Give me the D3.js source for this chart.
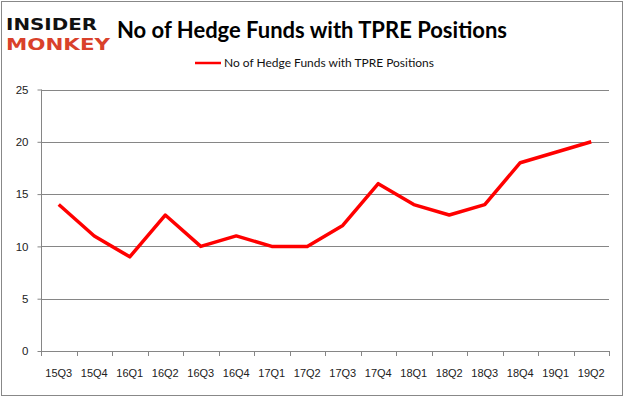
<!DOCTYPE html>
<html><head><meta charset="utf-8">
<script src="https://cdn.jsdelivr.net/npm/d3@7"></script>
<style>body{margin:0;background:#fff}svg{display:block}</style>
</head><body>
<svg id="c" width="626" height="397"></svg>
<script>
const categories = ["15Q3","15Q4","16Q1","16Q2","16Q3","16Q4","17Q1","17Q2","17Q3","17Q4","18Q1","18Q2","18Q3","18Q4","19Q1","19Q2"];
const values = [14,11,9,13,10,11,10,10,12,16,14,13,14,18,19,20];
const yTicks = [0,5,10,15,20,25];
const titleText = "No of Hedge Funds with TPRE Positions";
const seriesName = "No of Hedge Funds with TPRE Positions";

const svg = d3.select("#c");
svg.append("rect").attr("x",1.5).attr("y",1.5).attr("width",621).attr("height",394)
  .attr("fill","#fff").attr("stroke","#888").attr("stroke-width",1);

const x = d3.scaleBand().domain(categories).range([41,609]);
const y = d3.scaleLinear().domain([0,25]).range([351,89.5]);

// gridlines
svg.append("g").selectAll("line").data(yTicks.filter(d=>d>0)).join("line")
  .attr("x1",41).attr("x2",609).attr("y1",d=>Math.round(y(d))+0.5).attr("y2",d=>Math.round(y(d))+0.5)
  .attr("stroke","#868686").attr("stroke-width",1);

// y axis
const ya = svg.append("g").attr("transform","translate(41.5,0)")
  .call(d3.axisLeft(y).tickValues(yTicks).tickSize(4).tickPadding(9));
ya.select(".domain").attr("stroke","#868686").attr("d","M0,89.5V351.5");
ya.selectAll(".tick line").attr("stroke","#868686");
ya.selectAll("text").attr("font-family","Liberation Sans, Arial").attr("font-size",11.5).attr("fill","#222");

// x axis
const xa = svg.append("g").attr("transform","translate(0,351.5)")
  .call(d3.axisBottom(x).tickSize(0).tickPadding(18));
xa.select(".domain").attr("stroke","#868686").attr("d","M41,0H609.5");
xa.selectAll("text").attr("font-family","Liberation Sans, Arial").attr("font-size",11).attr("fill","#222");
svg.append("g").selectAll("line").data(categories.concat(["_end"])).join("line")
  .attr("x1",(d,i)=>Math.round(41+i*x.step())+0.5).attr("x2",(d,i)=>Math.round(41+i*x.step())+0.5)
  .attr("y1",351).attr("y2",356).attr("stroke","#868686");

// line
const line = d3.line().x((d,i)=>x(categories[i])+x.bandwidth()/2).y(d=>y(d));
svg.append("path").datum(values).attr("d",line).attr("fill","none")
  .attr("stroke","#ff0000").attr("stroke-width",3.5).attr("stroke-linejoin","round");

// title
svg.append("text").attr("x",312).attr("y",38).attr("text-anchor","middle")
  .attr("font-family","Lato, 'Open Sans', sans-serif").attr("font-weight","bold").attr("font-size",22)
  .attr("textLength",390).attr("lengthAdjust","spacingAndGlyphs")
  .attr("fill","#000").text(titleText);

// legend
svg.append("line").attr("x1",195).attr("x2",221).attr("y1",63).attr("y2",63)
  .attr("stroke","#ff0000").attr("stroke-width",2.5);
svg.append("text").attr("x",224).attr("y",67).attr("font-family","Lato, 'Open Sans', sans-serif")
  .attr("font-size",11.5).attr("textLength",210).attr("lengthAdjust","spacingAndGlyphs")
  .attr("fill","#111").text(seriesName);

// logo
svg.append("text").attr("x",6).attr("y",30).attr("font-family","DejaVu Sans").attr("font-weight","bold")
  .attr("font-size",16.5).attr("textLength",91).attr("lengthAdjust","spacingAndGlyphs").attr("fill","#111").text("INSIDER");
svg.append("text").attr("x",6).attr("y",50).attr("font-family","DejaVu Sans").attr("font-weight","bold")
  .attr("font-size",16.5).attr("textLength",104).attr("lengthAdjust","spacingAndGlyphs").attr("fill","#d9412b").text("MONKEY");
</script>
</body></html>
